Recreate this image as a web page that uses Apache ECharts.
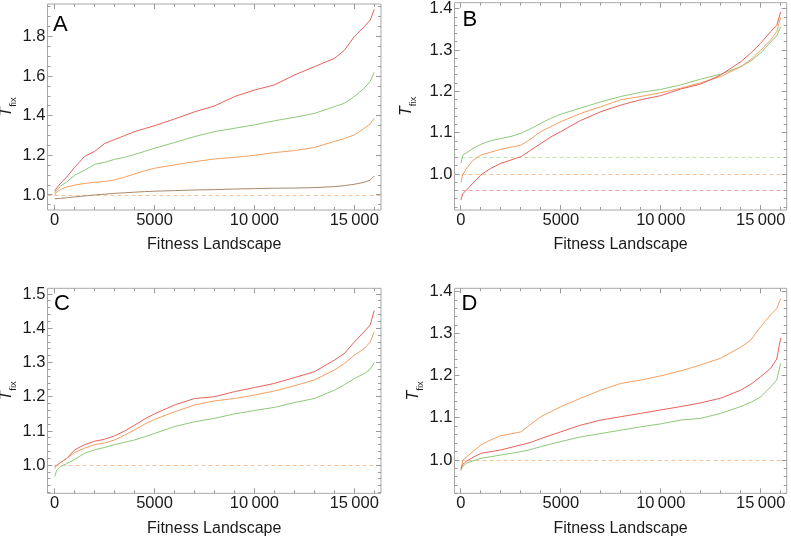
<!DOCTYPE html>
<html><head><meta charset="utf-8">
<script src="https://cdn.jsdelivr.net/npm/echarts@6/dist/echarts.min.js"></script>
<style>html,body{margin:0;padding:0;background:#fff}#c{width:791px;height:541px}</style>
</head><body><div id="c"></div><script>
// ---------- data ----------
const xs = [0,100,300,600,1000,1500,2000,2500,3000,3500,4000,4500,5000,6000,7000,8000,9000,10000,11000,12000,13000,14000,14500,15000,15500,15800,16000];

const aRed    = [1.02,1.035,1.06,1.09,1.14,1.195,1.22,1.26,1.28,1.30,1.32,1.335,1.35,1.384,1.42,1.45,1.497,1.53,1.556,1.606,1.648,1.69,1.73,1.80,1.85,1.884,1.938];
const aGreen  = [1.01,1.025,1.045,1.065,1.10,1.125,1.155,1.165,1.18,1.19,1.205,1.22,1.236,1.265,1.295,1.32,1.337,1.354,1.375,1.392,1.412,1.446,1.463,1.497,1.539,1.575,1.62];
const aOrange = [1.0,1.015,1.028,1.04,1.05,1.058,1.064,1.068,1.076,1.09,1.106,1.122,1.135,1.152,1.168,1.182,1.19,1.2,1.214,1.224,1.24,1.27,1.285,1.303,1.337,1.36,1.387];
const aBrown  = [0.98,0.981,0.983,0.986,0.99,0.995,1.0,1.004,1.008,1.011,1.014,1.017,1.019,1.022,1.025,1.027,1.03,1.032,1.034,1.035,1.037,1.042,1.047,1.054,1.064,1.075,1.096];

const bGreen  = [1.026,1.046,1.052,1.062,1.072,1.081,1.086,1.091,1.099,1.11,1.123,1.135,1.145,1.16,1.175,1.188,1.198,1.205,1.216,1.23,1.242,1.26,1.274,1.293,1.32,1.335,1.357];
const bOrange = [0.98,1.0,1.015,1.033,1.046,1.053,1.06,1.065,1.07,1.085,1.103,1.115,1.127,1.147,1.163,1.18,1.188,1.197,1.208,1.221,1.236,1.26,1.277,1.3,1.325,1.345,1.38];
const bRed    = [0.937,0.953,0.962,0.978,0.998,1.014,1.026,1.034,1.042,1.058,1.074,1.09,1.103,1.13,1.151,1.167,1.18,1.19,1.206,1.218,1.24,1.272,1.293,1.317,1.345,1.36,1.393];

const cRed    = [0.996,1.0,1.008,1.02,1.045,1.06,1.07,1.076,1.086,1.1,1.117,1.135,1.15,1.176,1.195,1.2,1.215,1.227,1.239,1.256,1.273,1.307,1.326,1.36,1.39,1.41,1.452];
const cOrange = [0.99,1.0,1.008,1.02,1.037,1.05,1.06,1.065,1.074,1.088,1.103,1.12,1.134,1.156,1.176,1.188,1.195,1.205,1.217,1.232,1.249,1.278,1.297,1.321,1.341,1.36,1.39];
const cGreen  = [0.967,0.985,0.996,1.005,1.017,1.035,1.045,1.052,1.06,1.067,1.074,1.083,1.093,1.113,1.127,1.137,1.15,1.16,1.169,1.183,1.195,1.219,1.235,1.253,1.268,1.28,1.3];

const dOrange = [0.975,1.0,1.008,1.02,1.036,1.048,1.058,1.062,1.067,1.085,1.103,1.115,1.127,1.147,1.166,1.182,1.19,1.2,1.212,1.226,1.242,1.268,1.285,1.317,1.345,1.36,1.384];
const dRed    = [0.98,0.99,0.998,1.006,1.016,1.02,1.024,1.03,1.036,1.042,1.051,1.059,1.067,1.083,1.095,1.103,1.111,1.119,1.127,1.136,1.147,1.166,1.18,1.198,1.218,1.24,1.29];
const dGreen  = [0.976,0.985,0.993,0.998,1.004,1.008,1.012,1.016,1.02,1.025,1.032,1.038,1.044,1.055,1.063,1.071,1.079,1.086,1.095,1.099,1.111,1.127,1.137,1.15,1.174,1.19,1.23];

// reference (dashed) levels
const refA = [1.0];
const refB = [1.045, 1.0, 0.958];
const refC = [1.0];
const refD = [1.0];

// tick values / labels
const xMajor = [0,5000,10000,15000];
const xMinor = [1000,2000,3000,4000,6000,7000,8000,9000,11000,12000,13000,14000,16000];
const yMajorA = [1.0,1.2,1.4,1.6,1.8];
const yMinorA = [0.95,1.05,1.1,1.15,1.25,1.3,1.35,1.45,1.5,1.55,1.65,1.7,1.75,1.85,1.9,1.95];
const yMajorB = [1.0,1.1,1.2,1.3,1.4];
const yMinorB = [0.92,0.94,0.96,0.98,1.02,1.04,1.06,1.08,1.12,1.14,1.16,1.18,1.22,1.24,1.26,1.28,1.32,1.34,1.36,1.38];
const yMajorC = [1.0,1.1,1.2,1.3,1.4,1.5];
const yMinorC = [0.92,0.94,0.96,0.98,1.02,1.04,1.06,1.08,1.12,1.14,1.16,1.18,1.22,1.24,1.26,1.28,1.32,1.34,1.36,1.38,1.42,1.44,1.46,1.48];
const yMajorD = yMajorB;
const yMinorD = yMinorB;
const panelLetters = ['A','B','C','D'];
const xName = 'Fitness Landscape';

// ---------- style ----------
const RED = '#e8625a', GREEN = '#8ec97a', ORANGE = '#f4a062', BROWN = '#a8896a';
const FRAME = '#a8a8a8', TICK = '#9a9a9a';
const FONT = '"Liberation Sans", Arial, sans-serif';
const TXT = '#1a1a1a';

const panels = [
  {grid:{left:47.5,top:4,width:333.5,height:206}, xr:[-360,16340], yr:[0.924,1.965], yMaj:yMajorA, yMin:yMinorA, yGap:28.5,
   lines:[[aRed,RED],[aGreen,GREEN],[aOrange,ORANGE],[aBrown,BROWN]], refs:refA.map(v=>[v,'#f6c39a']),
   letter:{left:53,top:14}},
  {grid:{left:454.5,top:2.7,width:332.2,height:207.3}, xr:[-320,16300], yr:[0.913,1.415], yMaj:yMajorB, yMin:yMinorB, yGap:36,
   lines:[[bGreen,GREEN],[bOrange,ORANGE],[bRed,RED]], refs:[[refB[0],'#c2e2ae'],[refB[1],'#f6c39a'],[refB[2],'#f2a7a2']],
   letter:{left:462.5,top:8.5}},
  {grid:{left:47.5,top:288.3,width:333.5,height:205}, xr:[-360,16340], yr:[0.918,1.517], yMaj:yMajorC, yMin:yMinorC, yGap:28.5,
   lines:[[cRed,RED],[cOrange,ORANGE],[cGreen,GREEN]], refs:refC.map(v=>[v,'#f6c39a']),
   letter:{left:54,top:292.5}},
  {grid:{left:454.5,top:288.3,width:332.2,height:205}, xr:[-320,16300], yr:[0.921,1.408], yMaj:yMajorD, yMin:yMinorD, yGap:29,
   lines:[[dOrange,ORANGE],[dRed,RED],[dGreen,GREEN]], refs:refD.map(v=>[v,'#f6c39a']),
   letter:{left:461.5,top:293}}
];

const fmtX = v => v >= 10000 ? Math.floor(v/1000) + '\u2009' + String(v%1000).padStart(3,'0') : String(v);
const fmtY = v => v.toFixed(1);
const crisp = v => Math.round(v - 0.5) + 0.5;

const grids=[], xAxes=[], yAxes=[], series=[], titles=[];

// one custom series draws the ticks of one frame side; positions come from the axis scales (api.coord)
function tickSeries(gi, data, nMajor, side) {
  return {type:'custom', xAxisIndex:gi, yAxisIndex:gi, silent:true, clip:false, z:10, encode:{x:0, y:1},
    data:data, renderItem:(params, api) => {
      const len = params.dataIndex < nMajor ? 5 : 3;
      const c = api.coord([api.value(0), api.value(1)]);
      let shape;
      if (side === 'bottom') { const x = crisp(c[0]); shape = {x1:x, y1:c[1], x2:x, y2:c[1]-len}; }
      else if (side === 'top') { const x = crisp(c[0]); shape = {x1:x, y1:c[1], x2:x, y2:c[1]+len}; }
      else if (side === 'left') { const y = crisp(c[1]); shape = {x1:c[0], y1:y, x2:c[0]+len, y2:y}; }
      else { const y = crisp(c[1]); shape = {x1:c[0], y1:y, x2:c[0]-len, y2:y}; }
      return {type:'line', shape:shape, style:{stroke:TICK, lineWidth:1}};
    }};
}

panels.forEach((p, gi) => {
  grids.push(Object.assign({containLabel:false, outerBoundsMode:'none', show:true, borderColor:FRAME, borderWidth:1, backgroundColor:'transparent'}, p.grid));
  xAxes.push({gridIndex:gi, type:'value', position:'bottom', min:p.xr[0], max:p.xr[1],
    splitLine:{show:false}, axisLine:{show:false, onZero:false}, axisTick:{show:false},
    axisLabel:{show:true, customValues:xMajor, formatter:fmtX, margin:2, color:TXT, fontSize:16.5, fontFamily:FONT},
    name:xName, nameLocation:'middle', nameGap:27,
    nameTextStyle:{fontSize:16, color:TXT, fontFamily:FONT}});
  yAxes.push({gridIndex:gi, type:'value', position:'left', min:p.yr[0], max:p.yr[1],
    splitLine:{show:false}, axisLine:{show:false, onZero:false}, axisTick:{show:false},
    axisLabel:{show:true, customValues:p.yMaj, formatter:fmtY, margin:2, color:TXT, fontSize:16.5, fontFamily:FONT},
    name:'{t|T}{s|fix}', nameLocation:'middle', nameGap:p.yGap, nameRotate:90,
    nameTextStyle:{fontFamily:FONT, color:TXT, rich:{
      t:{fontSize:16, fontStyle:'italic', fontFamily:FONT, color:TXT, verticalAlign:'bottom', padding:[0,0,4,0]},
      s:{fontSize:9.5, fontFamily:FONT, color:TXT, verticalAlign:'bottom'}}}});

  const xTicks = xMajor.concat(xMinor), yTicks = p.yMaj.concat(p.yMin);
  series.push(tickSeries(gi, xTicks.map(v=>[v, p.yr[0]]), xMajor.length, 'bottom'));
  series.push(tickSeries(gi, xTicks.map(v=>[v, p.yr[1]]), xMajor.length, 'top'));
  series.push(tickSeries(gi, yTicks.map(v=>[p.xr[0], v]), p.yMaj.length, 'left'));
  series.push(tickSeries(gi, yTicks.map(v=>[p.xr[1], v]), p.yMaj.length, 'right'));

  p.lines.forEach(([vals, color], li) => {
    const s = {type:'line', xAxisIndex:gi, yAxisIndex:gi, showSymbol:false, symbol:'none',
      data: xs.map((x,i)=>[x, vals[i]]), lineStyle:{color, width:1}, itemStyle:{color}, z:3, silent:true};
    if (li === 0) {
      s.markLine = {silent:true, symbol:'none', label:{show:false}, z:2,
        data: p.refs.map(([v,c]) => ({yAxis:v, lineStyle:{color:c, type:[4,3], width:1}}))};
    }
    series.push(s);
  });
  titles.push({text:panelLetters[gi], left:p.letter.left, top:p.letter.top, padding:0,
    textStyle:{fontSize:22, fontWeight:'normal', color:'#000', fontFamily:FONT}});
});

const chart = echarts.init(document.getElementById('c'), null, {renderer:'canvas'});
chart.setOption({animation:false, backgroundColor:'#fff', title:titles, grid:grids, xAxis:xAxes, yAxis:yAxes, series});
</script></body></html>
